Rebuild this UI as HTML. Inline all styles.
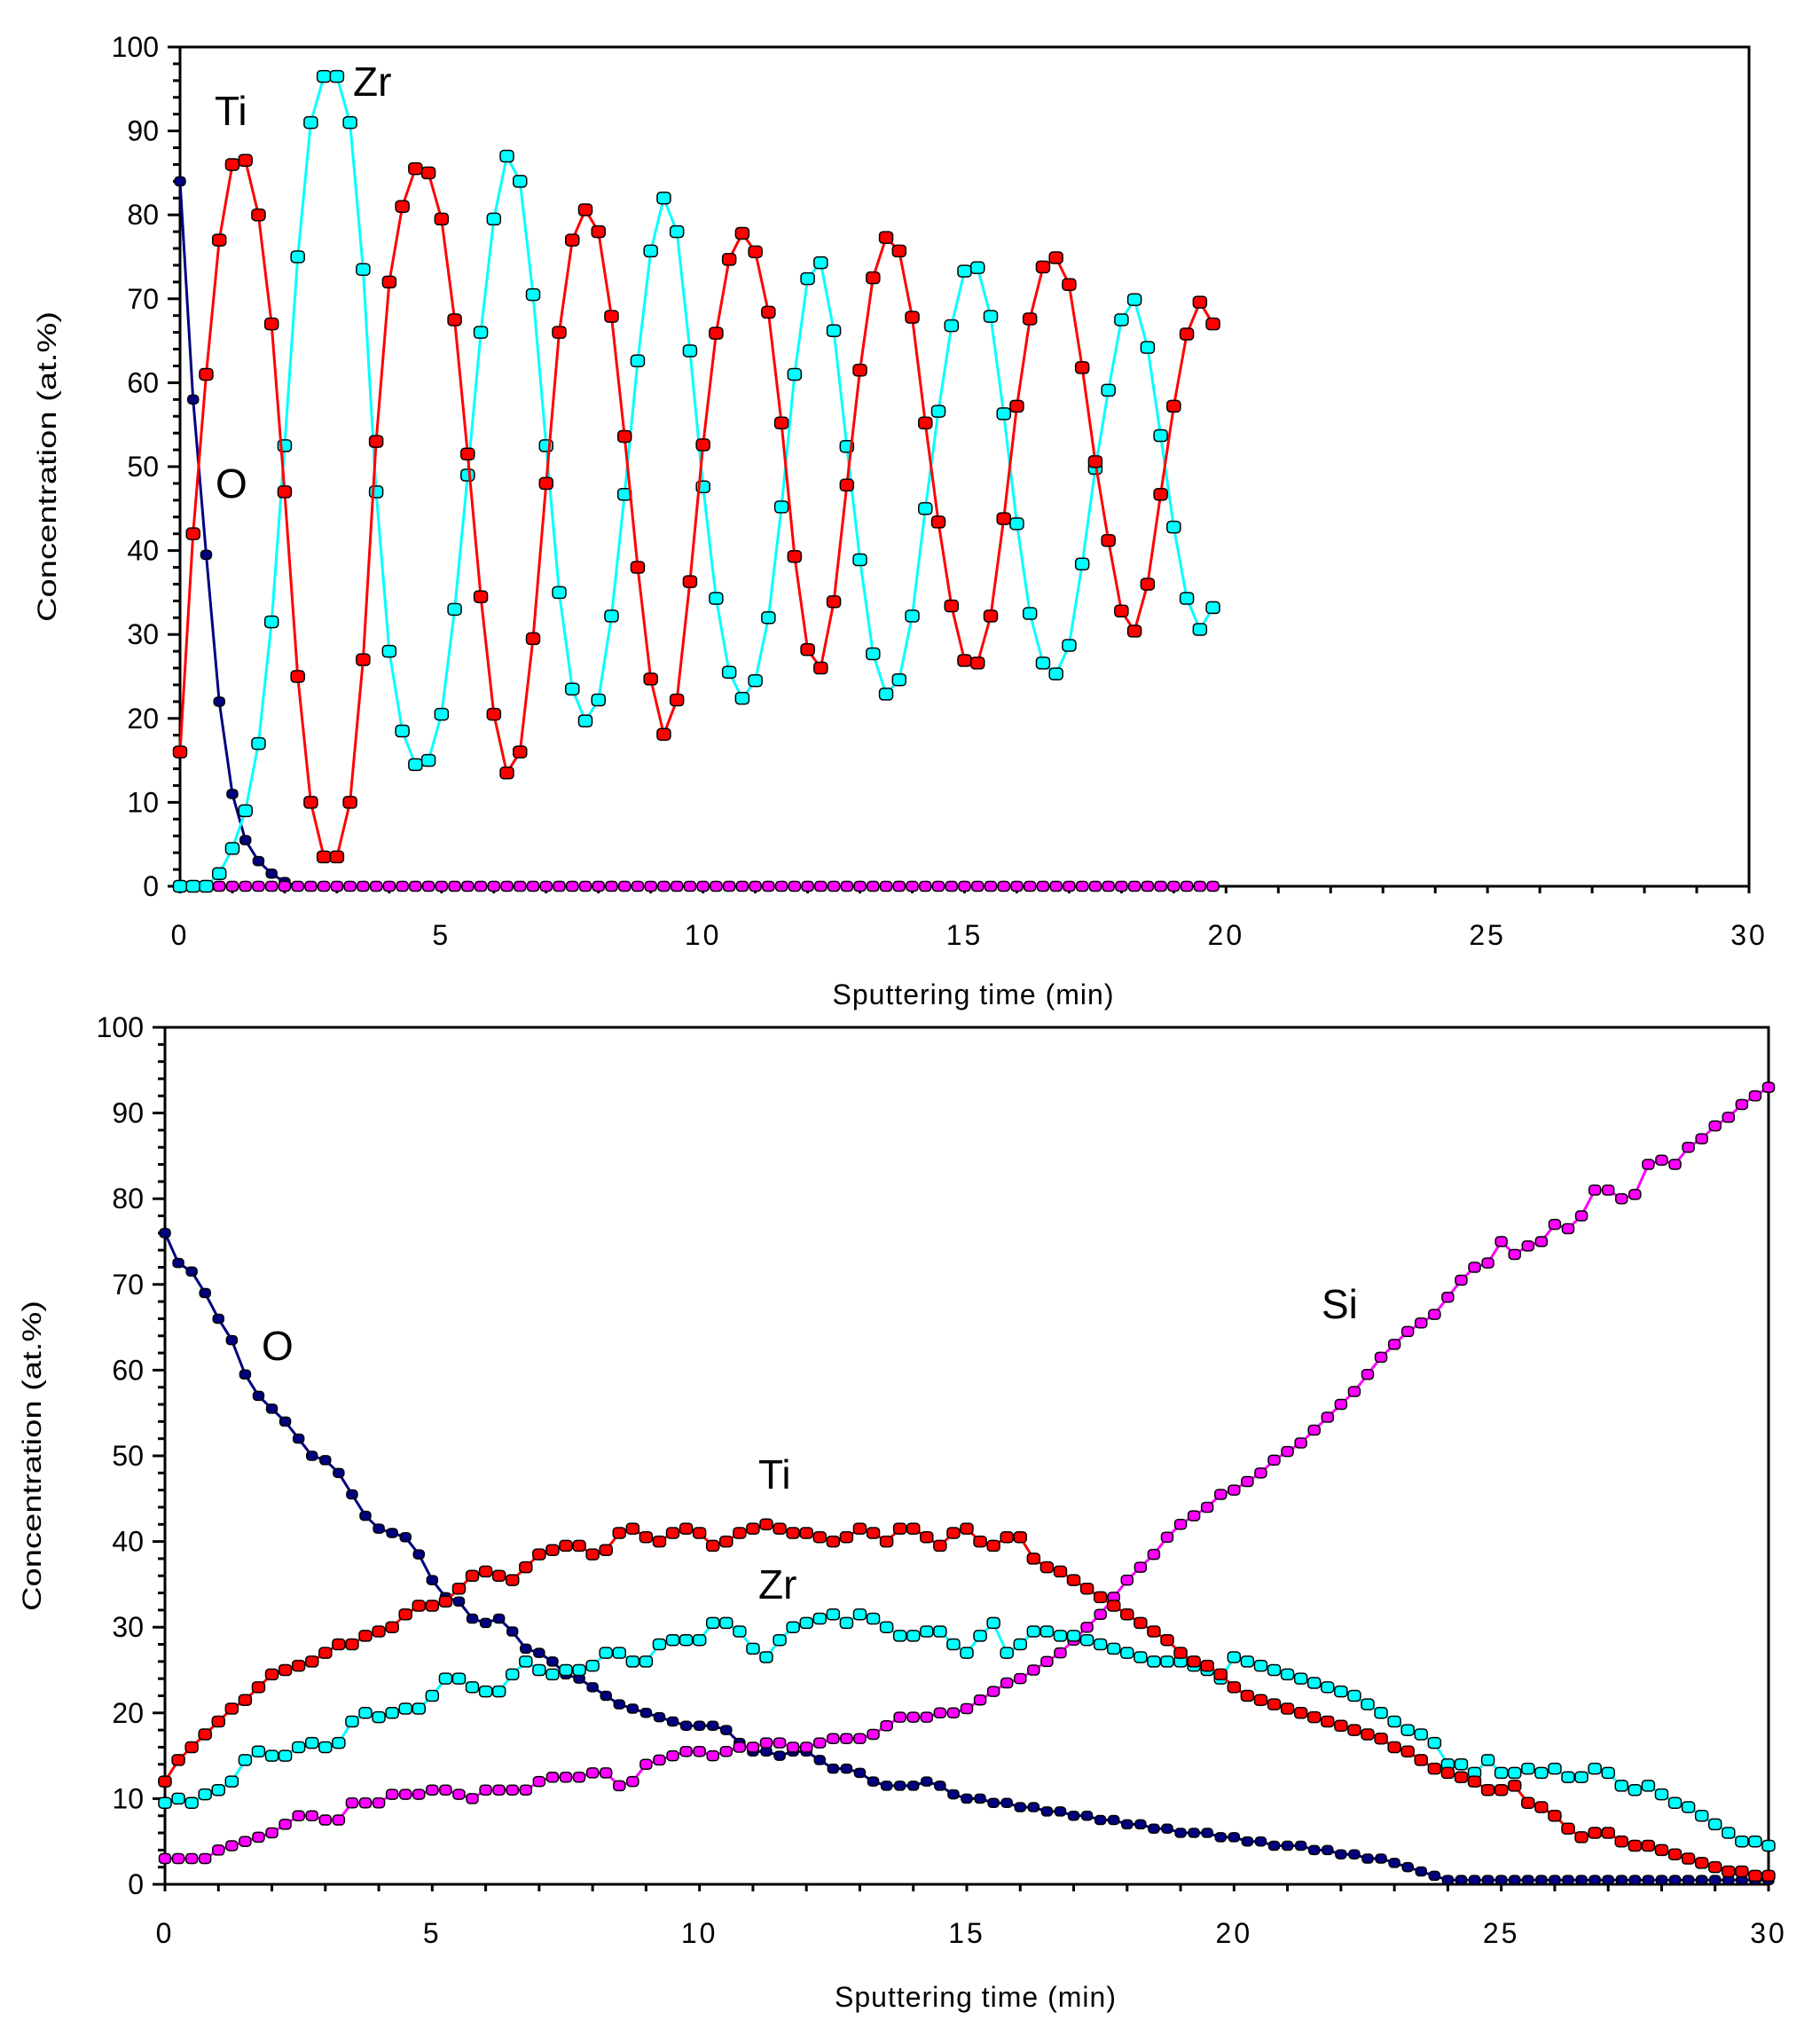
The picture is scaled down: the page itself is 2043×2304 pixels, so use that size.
<!DOCTYPE html>
<html><head><meta charset="utf-8"><style>
html,body{margin:0;padding:0;background:#fff;}
svg{display:block;font-family:"Liberation Sans",sans-serif;}
</style></head><body>
<svg id="chart" width="2043" height="2304" viewBox="0 0 2043 2304" xmlns="http://www.w3.org/2000/svg">
<rect width="2043" height="2304" fill="#fff"/>
<g id="top"></g>
<g id="bot"></g>
</svg>
<script>
// ---- data: top chart (0.25 min steps) ----
const timeStep = 0.25;
const xTicks = [0,5,10,15,20,25,30];
const yTicks = [0,10,20,30,40,50,60,70,80,90,100];
const topTi = [16,42,61,77,86,86.5,80,67,47,25,10,3.5,3.5,10,27,53,72,81,85.5,85,79.5,67.5,51.5,34.5,20.5,13.5,16,29.5,48,66,77,80.6,78,67.9,53.6,38,24.7,18.1,22.2,36.3,52.6,65.9,74.7,77.8,75.6,68.4,55.2,39.3,28.2,26,33.9,47.8,61.5,72.5,77.3,75.7,67.8,55.2,43.4,33.4,26.9,26.6,32.2,43.8,57.2,67.6,73.8,74.9,71.7,61.8,50.6,41.2,32.8,30.4,36,46.7,57.2,65.8,69.6,67];
const topZr = [0,0,0,1.5,4.5,9,17,31.5,52.5,75,91,96.5,96.5,91,73.5,47,28,18.5,14.5,15,20.5,33,49,66,79.5,87,84,70.5,52.5,35,23.5,19.7,22.2,32.2,46.7,62.6,75.7,82,78,63.8,47.6,34.3,25.5,22.4,24.5,32,45.2,61,72.4,74.3,66.2,52.4,38.9,27.7,22.9,24.6,32.2,45,56.6,66.8,73.3,73.7,67.9,56.3,43.2,32.5,26.6,25.3,28.7,38.4,49.8,59.1,67.5,69.9,64.2,53.7,42.8,34.3,30.6,33.2];
const topO = [84,58,39.5,22,11,5.5,3,1.5,0.5,0,0,0,0,0,0,0,0,0,0,0,0,0,0,0,0,0,0,0,0,0,0,0,0,0,0,0,0,0,0,0,0,0,0,0,0,0,0,0,0,0,0,0,0,0,0,0,0,0,0,0,0,0,0,0,0,0,0,0,0,0,0,0,0,0,0,0,0,0,0,0];
const topSi = [0,0,0,0,0,0,0,0,0,0,0,0,0,0,0,0,0,0,0,0,0,0,0,0,0,0,0,0,0,0,0,0,0,0,0,0,0,0,0,0,0,0,0,0,0,0,0,0,0,0,0,0,0,0,0,0,0,0,0,0,0,0,0,0,0,0,0,0,0,0,0,0,0,0,0,0,0,0,0,0];
// ---- data: bottom chart ----
const botO = [76,72.5,71.5,69,66,63.5,59.5,57,55.5,54,52,50,49.5,48,45.5,43,41.5,41,40.5,38.5,35.5,33.5,33,31,30.5,31,29.5,27.5,27,26,24.5,24,23,22,21,20.5,20,19.5,19,18.5,18.5,18.5,18,16.5,15.5,15.5,15,15.5,15.5,14.5,13.5,13.5,13,12,11.5,11.5,11.5,12,11.5,10.5,10,10,9.5,9.5,9,9,8.5,8.5,8,8,7.5,7.5,7,7,6.5,6.5,6,6,6,5.5,5.5,5,5,4.5,4.5,4.5,4,4,3.5,3.5,3,3,2.5,2,1.5,1,0.5,0.5,0.5,0.5,0.5,0.5,0.5,0.5,0.5,0.5,0.5,0.5,0.5,0.5,0.5,0.5,0.5,0.5,0.5,0.5,0.5,0.5,0.5,0.5,0.5];
const botTi = [12,14.5,16,17.5,19,20.5,21.5,23,24.5,25,25.5,26,27,28,28,29,29.5,30,31.5,32.5,32.5,33,34.5,36,36.5,36,35.5,37,38.5,39,39.5,39.5,38.5,39,41,41.5,40.5,40,41,41.5,41,39.5,40,41,41.5,42,41.5,41,41,40.5,40,40.5,41.5,41,40,41.5,41.5,40.5,39.5,41,41.5,40,39.5,40.5,40.5,38,37,36.5,35.5,34.5,33.5,32.5,31.5,30.5,29.5,28.5,27,26,25.5,24.5,23,22,21.5,21,20.5,20,19.5,19,18.5,18,17.5,17,16,15.5,14.5,13.5,13,12.5,12,11,11,11.5,9.5,9,8,6.5,5.5,6,6,5,4.5,4.5,4,3.5,3,2.5,2,1.5,1.5,1,1];
const botZr = [9.5,10,9.5,10.5,11,12,14.5,15.5,15,15,16,16.5,16,16.5,19,20,19.5,20,20.5,20.5,22,24,24,23,22.5,22.5,24.5,26,25,24.5,25,25,25.5,27,27,26,26,28,28.5,28.5,28.5,30.5,30.5,29.5,27.5,26.5,28.5,30,30.5,31,31.5,30.5,31.5,31,30,29,29,29.5,29.5,28,27,29,30.5,27,28,29.5,29.5,29,29,28.5,28,27.5,27,26.5,26,26,26,25.5,25,24,26.5,26,25.5,25,24.5,24,23.5,23,22.5,22,21,20,19,18,17.5,16.5,14,14,13,14.5,13,13,13.5,13,13.5,12.5,12.5,13.5,13,11.5,11,11.5,10.5,9.5,9,8,7,6,5,5,4.5];
const botSi = [3,3,3,3,4,4.5,5,5.5,6,7,8,8,7.5,7.5,9.5,9.5,9.5,10.5,10.5,10.5,11,11,10.5,10,11,11,11,11,12,12.5,12.5,12.5,13,13,11.5,12,14,14.5,15,15.5,15.5,15,15.5,16,16,16.5,16.5,16,16,16.5,17,17,17,17.5,18.5,19.5,19.5,19.5,20,20,20.5,21.5,22.5,23.5,24,25,26,27,28.5,30,31.5,33.5,35.5,37,38.5,40.5,42,43,44,45.5,46,47,48,49.5,50.5,51.5,53,54.5,56,57.5,59.5,61.5,63,64.5,65.5,66.5,68.5,70.5,72,72.5,75,73.5,74.5,75,77,76.5,78,81,81,80,80.5,84,84.5,84,86,87,88.5,89.5,91,92,93];

const NS = "http://www.w3.org/2000/svg";
function mk(tag, attrs, parent){
  const e = document.createElementNS(NS, tag);
  for (const k in attrs) e.setAttribute(k, attrs[k]);
  parent.appendChild(e);
  return e;
}
function drawChart(g, L, R, T, B, series, labels, titleY){
  const xs = v => L + (v/30)*(R-L);
  const ys = v => B - (v/100)*(B-T);
  const frame = mk('rect', {x:L, y:T, width:R-L, height:B-T, fill:'none', stroke:'#000', 'stroke-width':3}, g);
  
  
  for (let v = 0; v <= 100; v += 2) {
    const major = v % 10 === 0;
    const tk = mk('line', {x1:L-(major?14:8), x2:L, y1:ys(v), y2:ys(v), stroke:'#000', 'stroke-width':3}, g);
    
    
  }
  yTicks.forEach(v => {
    const t = mk('text', {x:L-24, y:ys(v)+11, 'text-anchor':'end', 'font-size':32}, g);
    t.textContent = v;
    
    
  });
  for (let v = 0; v <= 30; v += 1) {
    const tk = mk('line', {x1:xs(v), x2:xs(v), y1:B, y2:B+8, stroke:'#000', 'stroke-width':3}, g);
    
    
  }
  xTicks.forEach(v => {
    const t = mk('text', {x:xs(v), y:B+66, 'text-anchor':'middle', 'font-size':32, 'letter-spacing':3}, g);
    t.textContent = v;
    
    
  });
  const xt = mk('text', {x:(L+R)/2 + 10, y:titleY, 'text-anchor':'middle', 'font-size':32, 'letter-spacing':1}, g);
  xt.textContent = 'Sputtering time (min)';
  
  
  const ycx = L - 140, ycy = (T+B)/2;
  const yt = mk('text', {x:ycx, y:ycy, 'text-anchor':'middle', 'font-size':30, textLength:350, lengthAdjust:'spacingAndGlyphs', transform:'rotate(-90 '+ycx+' '+ycy+')'}, g);
  yt.textContent = 'Concentration (at.%)';
  
  
  series.forEach(s => {
    const sg = mk('g', {}, g);
    
    
    const pts = s.data.map((v,i) => xs(i*timeStep).toFixed(1)+','+ys(v).toFixed(1)).join(' ');
    const pl = mk('polyline', {points:pts, fill:'none', stroke:s.color, 'stroke-width':3}, sg);
    
    
    s.data.forEach((v,i) => {
      const m = mk('rect', {x:xs(i*timeStep)-s.ms/2, y:ys(v)-s.ms/2+1, width:s.ms, height:s.ms-2, rx:4, fill:s.color, stroke:'#000', 'stroke-width':1.5}, sg);
      
      
    });
  });
  labels.forEach(l => {
    const t = mk('text', {x:l[1], y:l[2], 'font-size':46}, g);
    t.textContent = l[0];
    
    
  });
}
drawChart(document.getElementById('top'), 203, 1972, 53, 999, [
  {name:'o-series', data:topO, color:'#000080', ms:12},
  {name:'si-series', data:topSi, color:'#ff00ff', ms:13},
  {name:'zr-series', data:topZr, color:'#00ffff', ms:15},
  {name:'ti-series', data:topTi, color:'#ff0000', ms:15}
], [['Ti',242,141],['Zr',398,108],['O',243,561]], 1132);
drawChart(document.getElementById('bot'), 186, 1994, 1158, 2124, [
  {name:'o-series', data:botO, color:'#000080', ms:12},
  {name:'si-series', data:botSi, color:'#ff00ff', ms:13},
  {name:'zr-series', data:botZr, color:'#00ffff', ms:14},
  {name:'ti-series', data:botTi, color:'#ff0000', ms:14}
], [['O',295,1533],['Si',1490,1486],['Ti',855,1678],['Zr',855,1802]], 2262);
</script>
</body></html>
